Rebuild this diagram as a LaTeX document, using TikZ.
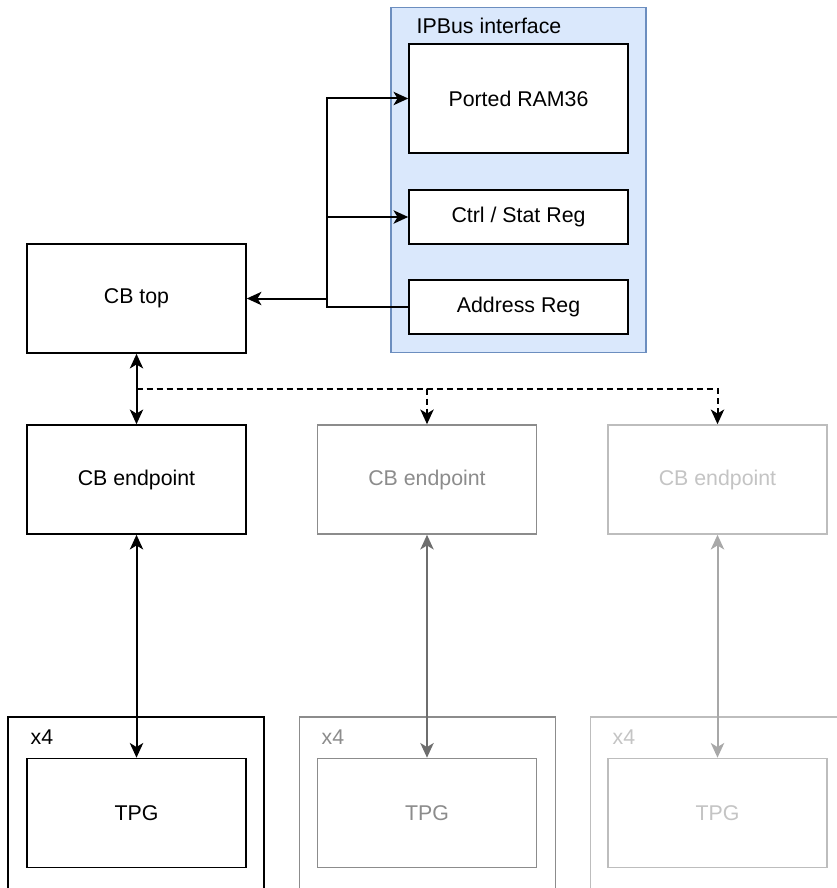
\documentclass[tikz,border=0pt]{standalone}
\usepackage{fontspec}
\setmainfont{Liberation Sans}
\usetikzlibrary{arrows.meta,positioning}
\definecolor{ipbusfill}{HTML}{DAE8FC}
\definecolor{ipbusline}{HTML}{6C8EBF}
\definecolor{fadeline}{HTML}{8C8C8C}
\definecolor{fadetext}{HTML}{8C8C8C}
\definecolor{fadearrow}{HTML}{6E6E6E}
\definecolor{paleline}{HTML}{BDBDBD}
\definecolor{paletext}{HTML}{C4C4C4}
\definecolor{palearrow}{HTML}{A8A8A8}
\tikzset{
blocktext/.style={
  align=center,
  font=\fontsize{16}{19}\selectfont
},
block/.style={
  draw,
  fill=white,
  line width=1.2pt,
  inner sep=0pt,
  minimum width=164.25pt,
  minimum height=81.75pt,
  blocktext
},
regblock/.style={
  block,
  minimum height=40.5pt
},
fadeblock/.style={
  block,
  draw=fadeline,
  text=fadetext
},
paleblock/.style={
  block,
  draw=paleline,
  text=paletext
},
groupbox/.style={
  draw,
  line width=1.2pt,
  inner sep=0pt,
  minimum width=192pt,
  minimum height=150pt
},
ipbusbox/.style={
  draw=ipbusline,
  fill=ipbusfill,
  line width=1.2pt,
  inner sep=0pt,
  minimum width=191.25pt,
  minimum height=258.75pt
},
grouplabel/.style={
  anchor=west,
  font=\fontsize{16}{19}\selectfont
},
arrow/.style={
  -{Stealth[length=11pt,width=10pt,inset=3pt]},
  line width=1.5pt
},
twoway/.style={
  {Stealth[length=11pt,width=10pt,inset=3pt]}-{Stealth[length=11pt,width=10pt,inset=3pt]},
  line width=1.5pt
},
dashedarrow/.style={
  arrow,
  dash pattern=on 4.5pt off 3pt
}
}
\begin{document}
\begin{tikzpicture}[x=0.75pt, y=-0.75pt]
  \clip (0,0) rectangle (837,888);
  % IPBus side
  \node[ipbusbox] (ipbus) at (518.5,180) {};
  \node[grouplabel] (ipbuslabel) at (412,26) {IPBus interface};
  \node[block] (ram) at (518.5,98.5) {Ported RAM36};
  \node[regblock] (ctrl) at (518.5,217) {Ctrl / Stat Reg};
  \node[regblock] (addr) at (518.5,307) {Address Reg};
  % Control bus
  \node[block] (cbtop) at (136.5,298.5) {CB top};
  \node[block] (ep1) at (136.5,479.5) {CB endpoint};
  \node[fadeblock] (ep2) at (427,479.5) {CB endpoint};
  \node[paleblock] (ep3) at (717.5,479.5) {CB endpoint};
  % TPG groups
  \node[groupbox] (grp1) at (136,817) {};
  \node[groupbox, draw=fadeline] (grp2) at (427.5,817) {};
  \node[groupbox, draw=paleline] (grp3) at (718.5,817) {};
  \node[grouplabel] (mult1) at (26,737) {x4};
  \node[grouplabel, text=fadetext] (mult2) at (317,737) {x4};
  \node[grouplabel, text=paletext] (mult3) at (608,737) {x4};
  \node[block] (tpg1) at (136.5,813) {TPG};
  \node[fadeblock] (tpg2) at (427,813) {TPG};
  \node[paleblock] (tpg3) at (717.5,813) {TPG};
  % Bus to registers
  \coordinate (bus) at (327,307);
  \coordinate (split) at (136.5,389);
  \draw[arrow] (addr.west) -- (bus) -- (bus |- cbtop.east) -- (cbtop.east);
  \draw[arrow] (bus |- cbtop.east) -- (bus |- ram.west) -- (ram.west);
  \draw[arrow] (bus |- ctrl.west) -- (ctrl.west);
  % Endpoints
  \draw[twoway] (cbtop.south) -- (ep1.north);
  \draw[dashedarrow] (split) -| (ep2.north);
  \draw[dashedarrow] (split) -| (ep3.north);
  \draw[twoway] (ep1.south) -- (tpg1.north);
  \draw[twoway, draw=fadearrow, fill=fadearrow] (ep2.south) -- (tpg2.north);
  \draw[twoway, draw=palearrow, fill=palearrow] (ep3.south) -- (tpg3.north);
\end{tikzpicture}
\end{document}
